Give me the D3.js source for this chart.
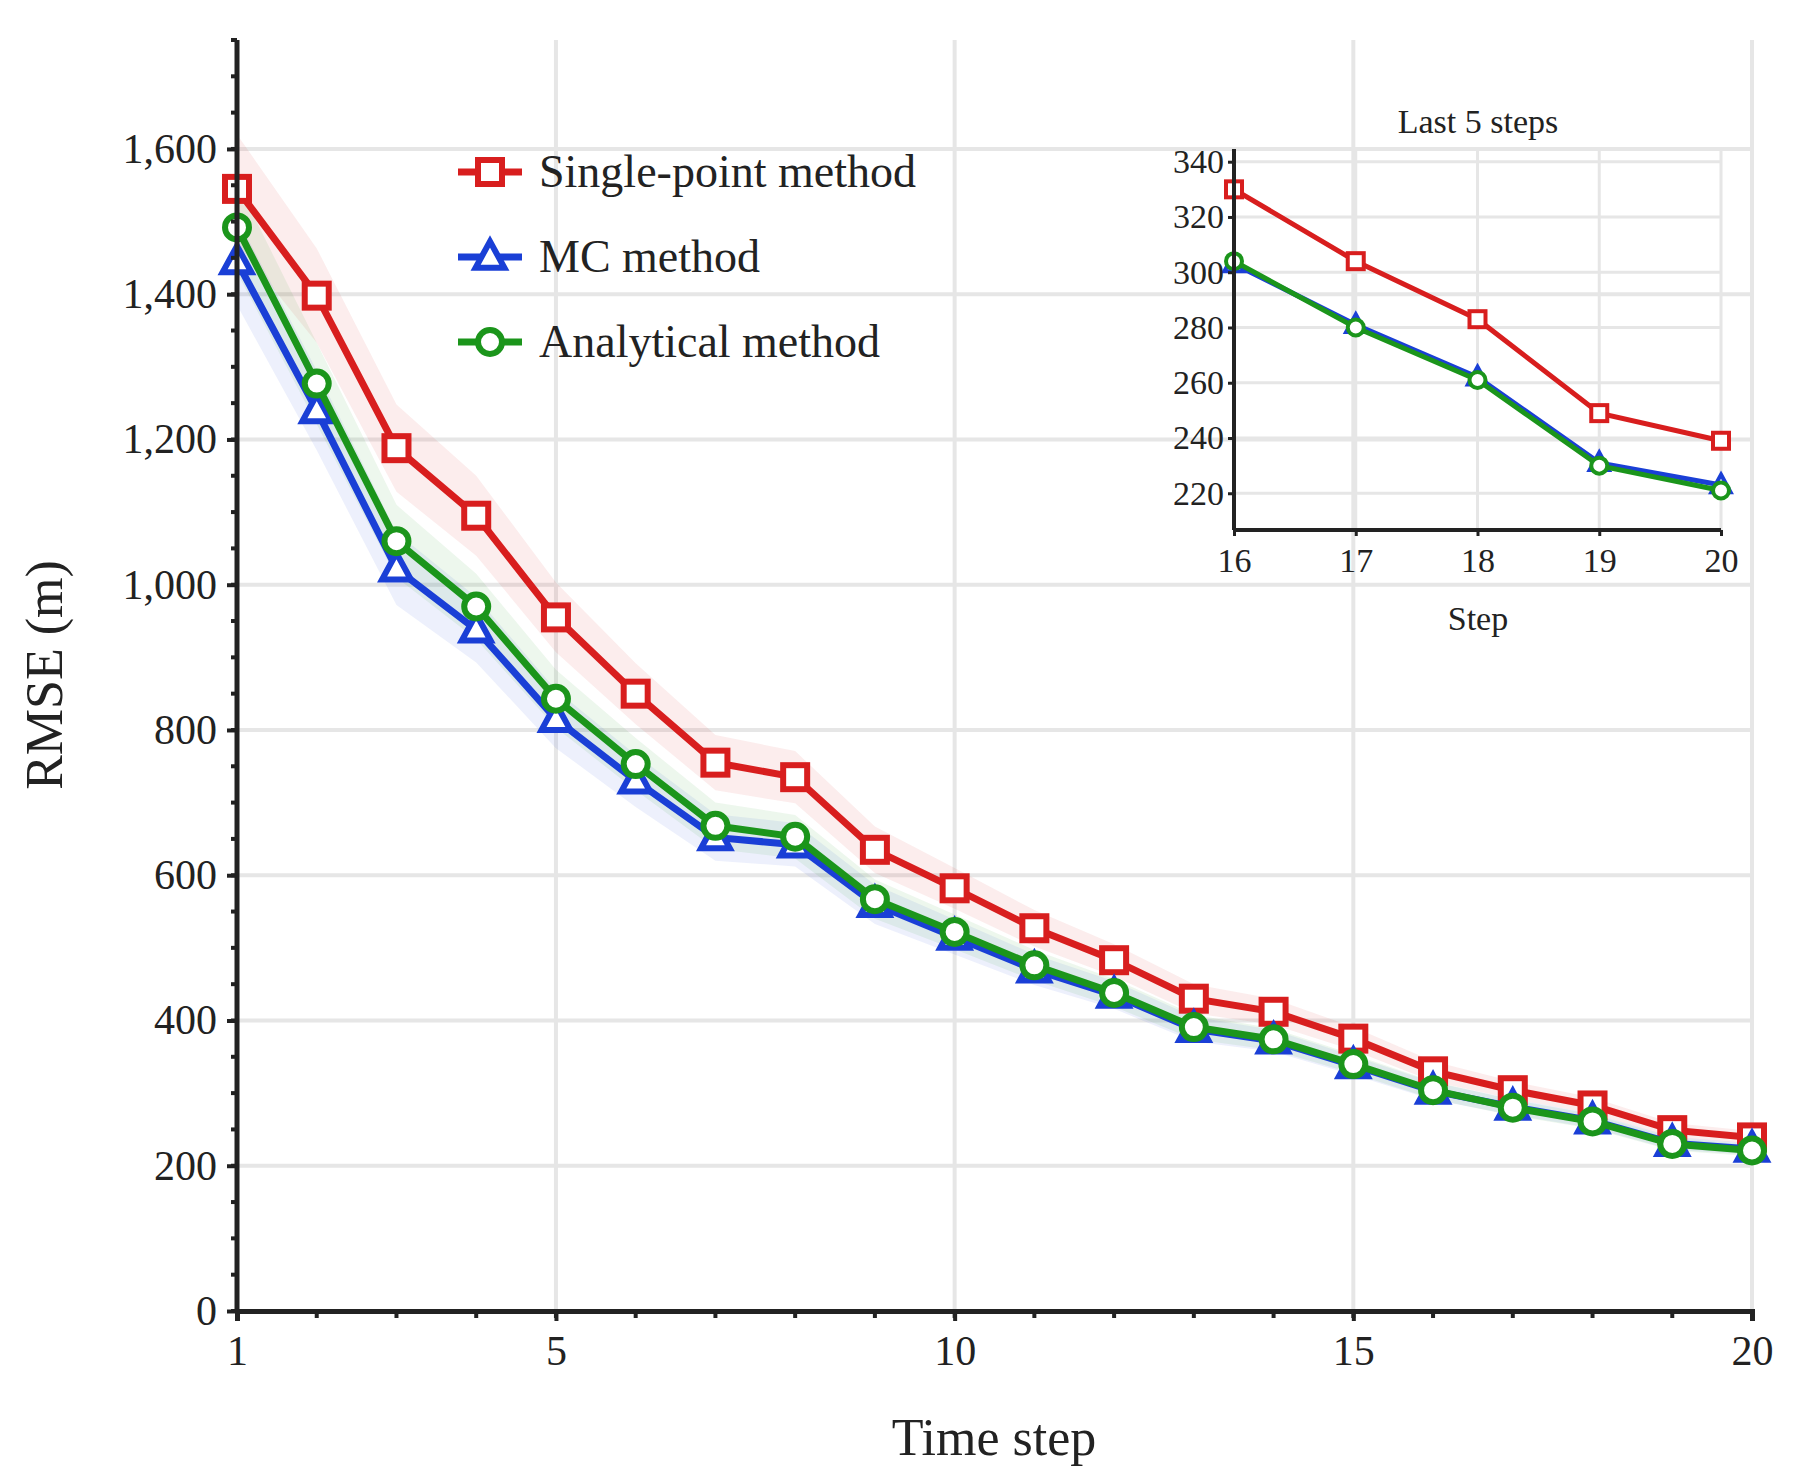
<!DOCTYPE html>
<html><head><meta charset="utf-8">
<script src="https://cdn.jsdelivr.net/npm/d3@7"></script>
<style>body{margin:0;background:#fff}text{font-family:"Liberation Serif","Times New Roman",serif;fill:#222}</style>
</head><body><svg id="c" width="1798" height="1484"></svg>
<script>
// Data
var steps = d3.range(1, 21);
var singlePoint = [1545,1398,1188,1095,955,850,755,735,635,582,527,483,430,412,375,330,304,283,249,239];
var mcMethod = [1445,1240,1022,938,815,730,652,642,560,515,470,435,388,372,338,303,281,262,231,223];
var analytical = [1492,1277,1060,970,843,753,668,653,567,522,476,438,391,374,340,304,280,261,230,221];
var spreadSingle = [75,65,60,55,48,42,38,36,32,28,25,22,20,18,16,14,12,11,10,9];
var spreadMC = [60,55,50,45,40,36,32,30,27,24,21,19,17,15,13,12,11,10,9,8];
var spreadAna = [62,56,50,45,40,36,32,30,27,24,21,19,17,15,13,12,11,10,9,8];
var xTickLabels = [1,5,10,15,20];
var yTickLabels = [0,200,400,600,800,1000,1200,1400,1600];
var insetTicks = [220,240,260,280,300,320,340];

var series = [
  {name:"Single-point method", values:singlePoint, spread:spreadSingle, color:"#d81e1e", marker:"square"},
  {name:"MC method", values:mcMethod, spread:spreadMC, color:"#1a3fd6", marker:"triangle"},
  {name:"Analytical method", values:analytical, spread:spreadAna, color:"#1b951b", marker:"circle"}
];

var svg = d3.select("#c");
var x = d3.scaleLinear().domain([1,20]).range([237,1752]);
var y = d3.scaleLinear().domain([0,1750]).range([1311,40]);

// grid
svg.append("g").selectAll("line").data(yTickLabels.slice(1)).enter().append("line")
  .attr("x1",237).attr("x2",1752).attr("y1",function(d){return y(d);}).attr("y2",function(d){return y(d);})
  .attr("stroke","#e6e6e6").attr("stroke-width",4);
svg.append("g").selectAll("line").data(xTickLabels.slice(1)).enter().append("line")
  .attr("y1",40).attr("y2",1311).attr("x1",function(d){return x(d);}).attr("x2",function(d){return x(d);})
  .attr("stroke","#e6e6e6").attr("stroke-width",4);

function drawMarker(g, s, px, py, sz, sw) {
  if (s.marker == "square") {
    g.append("rect").attr("x",px-sz/2).attr("y",py-sz/2).attr("width",sz).attr("height",sz)
      .attr("fill","#fff").attr("stroke",s.color).attr("stroke-width",sw);
  } else if (s.marker == "triangle") {
    var h = sz*1.0;
    g.append("path").attr("d","M"+px+","+(py-h*0.65)+"L"+(px+h*0.6)+","+(py+h*0.45)+"L"+(px-h*0.6)+","+(py+h*0.45)+"Z")
      .attr("fill","#fff").attr("stroke",s.color).attr("stroke-width",sw);
  } else {
    g.append("circle").attr("cx",px).attr("cy",py).attr("r",sz/2)
      .attr("fill","#fff").attr("stroke",s.color).attr("stroke-width",sw);
  }
}

// bands
series.forEach(function(s) {
  var area = d3.area().x(function(d,i){return x(steps[i]);})
    .y0(function(d,i){return y(d - s.spread[i]);}).y1(function(d,i){return y(d + s.spread[i]);});
  svg.append("path").attr("d",area(s.values)).attr("fill",s.color).attr("opacity",0.08);
});
// lines
var line = d3.line().x(function(d,i){return x(steps[i]);}).y(function(d){return y(d);});
series.forEach(function(s) {
  svg.append("path").attr("d",line(s.values)).attr("fill","none").attr("stroke",s.color).attr("stroke-width",7);
  var g = svg.append("g");
  s.values.forEach(function(v,i){ drawMarker(g, s, x(steps[i]), y(v), 24, 6); });
});

// axes
var yAxis = d3.axisLeft(y).tickValues(yTickLabels).tickFormat(d3.format(",")).tickSize(10).tickPadding(10);
var yg = svg.append("g").attr("transform","translate(237,0)").call(yAxis);
var xAxis = d3.axisBottom(x).tickValues(xTickLabels).tickSize(10).tickPadding(14);
var xg = svg.append("g").attr("transform","translate(0,1311)").call(xAxis);
[yg,xg].forEach(function(g){
  g.select(".domain").attr("stroke","#222").attr("stroke-width",5);
  g.selectAll(".tick line").attr("stroke","#222").attr("stroke-width",4);
  g.selectAll("text").attr("font-size",42).attr("font-family","Liberation Serif").attr("fill","#222");
});
yg.select(".domain").attr("d","M0,40V1311");
// minor ticks
svg.append("g").selectAll("line").data(d3.range(0,1751,50)).enter().append("line")
  .attr("x1",231).attr("x2",237).attr("y1",function(d){return y(d);}).attr("y2",function(d){return y(d);})
  .attr("stroke","#222").attr("stroke-width",4);
svg.append("g").selectAll("line").data(steps).enter().append("line")
  .attr("y1",1311).attr("y2",1318).attr("x1",function(d){return x(d);}).attr("x2",function(d){return x(d);})
  .attr("stroke","#222").attr("stroke-width",4);

svg.append("text").attr("x",994).attr("y",1455).attr("text-anchor","middle").attr("font-size",52).text("Time step");
svg.append("text").attr("transform","translate(62,675) rotate(-90)").attr("text-anchor","middle").attr("font-size",52).text("RMSE (m)");

// legend
series.forEach(function(s,i){
  var ly = 172 + i*85;
  var g = svg.append("g");
  g.append("line").attr("x1",458).attr("x2",522).attr("y1",ly).attr("y2",ly).attr("stroke",s.color).attr("stroke-width",7);
  drawMarker(g, s, 490, ly, 24, 6);
  g.append("text").attr("x",539).attr("y",ly+15).attr("font-size",46).text(s.name);
});

// inset
var ix = d3.scaleLinear().domain([16,20]).range([1234,1721]);
var iy = d3.scaleLinear().domain([206.7,344.6]).range([530,149]);
var inset = svg.append("g");
inset.append("g").selectAll("line").data(insetTicks).enter().append("line")
  .attr("x1",1234).attr("x2",1721).attr("y1",function(d){return iy(d);}).attr("y2",function(d){return iy(d);})
  .attr("stroke","#e6e6e6").attr("stroke-width",3);
inset.append("g").selectAll("line").data(steps.slice(16)).enter().append("line")
  .attr("y1",149).attr("y2",530).attr("x1",function(d){return ix(d);}).attr("x2",function(d){return ix(d);})
  .attr("stroke","#e6e6e6").attr("stroke-width",3);
var iline = d3.line().x(function(d,i){return ix(steps[i+15]);}).y(function(d){return iy(d);});
series.forEach(function(s){
  var vals = s.values.slice(15);
  inset.append("path").attr("d",iline(vals)).attr("fill","none").attr("stroke",s.color).attr("stroke-width",s.marker=="triangle"?5:5);
  var g = inset.append("g");
  vals.forEach(function(v,i){ drawMarker(g, s, ix(steps[i+15]), iy(v), 16, 4); });
});
var iyg = inset.append("g").attr("transform","translate(1234,0)")
  .call(d3.axisLeft(iy).tickValues(insetTicks).tickSize(6).tickPadding(4));
var ixg = inset.append("g").attr("transform","translate(0,530)")
  .call(d3.axisBottom(ix).tickValues(steps.slice(15)).tickFormat(d3.format("d")).tickSize(6).tickPadding(12));
[iyg,ixg].forEach(function(g){
  g.select(".domain").attr("stroke","#222").attr("stroke-width",4);
  g.selectAll(".tick line").attr("stroke","#222").attr("stroke-width",3);
  g.selectAll("text").attr("font-size",34).attr("font-family","Liberation Serif").attr("fill","#222");
});
iyg.select(".domain").attr("d","M0,149V530");
ixg.select(".domain").attr("d","M1234,0H1721");
inset.append("text").attr("x",1478).attr("y",133).attr("text-anchor","middle").attr("font-size",34).text("Last 5 steps");
inset.append("text").attr("x",1478).attr("y",630).attr("text-anchor","middle").attr("font-size",34).text("Step");
</script></body></html>
